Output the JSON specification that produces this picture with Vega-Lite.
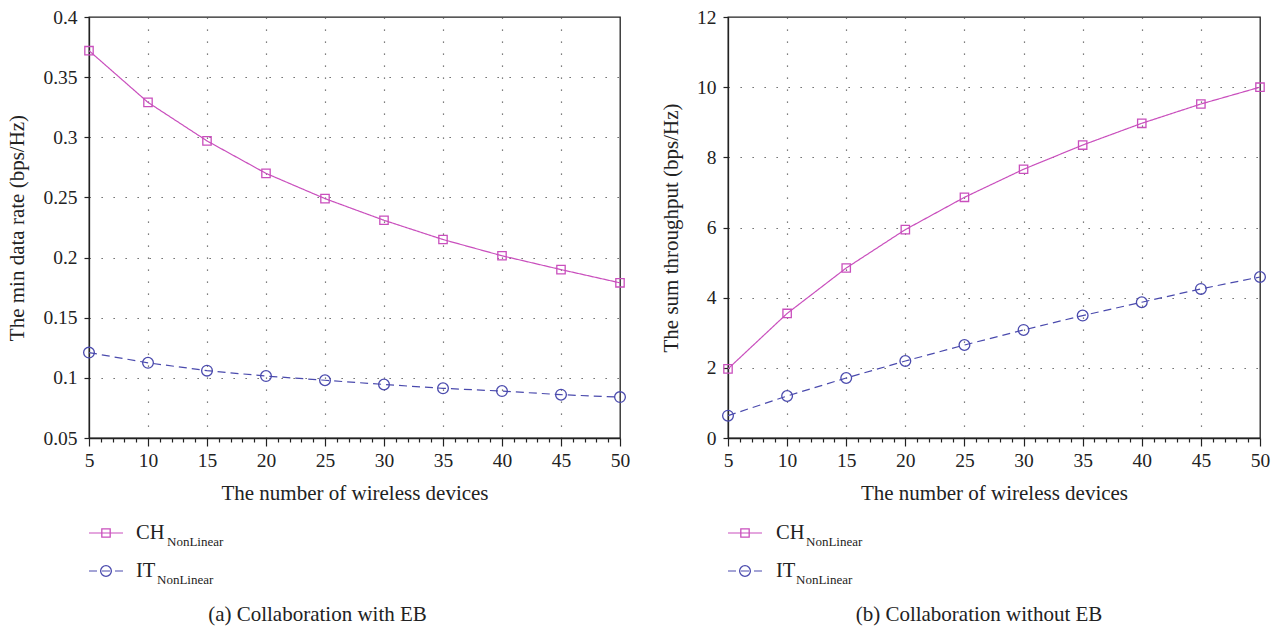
{
  "$schema": "https://vega.github.io/schema/vega-lite/v6.json",
  "background": "white",
  "padding": {"left": 6, "top": 6, "right": 10, "bottom": 4},
  "datasets": {
    "a": [
      {"n": 5, "series": "CH", "value": 0.372}, {"n": 10, "series": "CH", "value": 0.329}, {"n": 15, "series": "CH", "value": 0.297}, {"n": 20, "series": "CH", "value": 0.270}, {"n": 25, "series": "CH", "value": 0.249},
      {"n": 30, "series": "CH", "value": 0.231}, {"n": 35, "series": "CH", "value": 0.215}, {"n": 40, "series": "CH", "value": 0.2015}, {"n": 45, "series": "CH", "value": 0.190}, {"n": 50, "series": "CH", "value": 0.179},
      {"n": 5, "series": "IT", "value": 0.121}, {"n": 10, "series": "IT", "value": 0.1125}, {"n": 15, "series": "IT", "value": 0.106}, {"n": 20, "series": "IT", "value": 0.1015}, {"n": 25, "series": "IT", "value": 0.098},
      {"n": 30, "series": "IT", "value": 0.0945}, {"n": 35, "series": "IT", "value": 0.0913}, {"n": 40, "series": "IT", "value": 0.089}, {"n": 45, "series": "IT", "value": 0.086}, {"n": 50, "series": "IT", "value": 0.084}
    ],
    "b": [
      {"n": 5, "series": "CH", "value": 1.97}, {"n": 10, "series": "CH", "value": 3.55}, {"n": 15, "series": "CH", "value": 4.845}, {"n": 20, "series": "CH", "value": 5.94}, {"n": 25, "series": "CH", "value": 6.86},
      {"n": 30, "series": "CH", "value": 7.66}, {"n": 35, "series": "CH", "value": 8.35}, {"n": 40, "series": "CH", "value": 8.97}, {"n": 45, "series": "CH", "value": 9.52}, {"n": 50, "series": "CH", "value": 10.0},
      {"n": 5, "series": "IT", "value": 0.636}, {"n": 10, "series": "IT", "value": 1.197}, {"n": 15, "series": "IT", "value": 1.71}, {"n": 20, "series": "IT", "value": 2.195}, {"n": 25, "series": "IT", "value": 2.65},
      {"n": 30, "series": "IT", "value": 3.08}, {"n": 35, "series": "IT", "value": 3.49}, {"n": 40, "series": "IT", "value": 3.87}, {"n": 45, "series": "IT", "value": 4.25}, {"n": 50, "series": "IT", "value": 4.59}
    ],
    "legend": [
      {"series": "CH", "label": "CH", "sub": "NonLinear"},
      {"series": "IT", "label": "IT", "sub": "NonLinear"}
    ]
  },
  "spacing": 28,
  "hconcat": [
    {
      "spacing": 76,
      "bounds": "flush",
      "vconcat": [
        {
          "width": 531,
          "height": 421,
          "data": {"name": "a"},
          "encoding": {
            "x": {"field": "n", "type": "quantitative", "scale": {"domain": [5, 50], "nice": false, "zero": false},
              "axis": {"title": "The number of wireless devices", "values": [5,6,7,8,9,10,11,12,13,14,15,16,17,18,19,20,21,22,23,24,25,26,27,28,29,30,31,32,33,34,35,36,37,38,39,40,41,42,43,44,45,46,47,48,49,50],
                "labelExpr": "datum.value % 5 === 0 ? datum.label : ''",
                "tickSize": {"condition": {"test": "datum.value % 5 === 0", "value": 8}, "value": 4},
                "gridOpacity": {"condition": {"test": "datum.value % 5 === 0 && datum.value > 5 && datum.value < 50", "value": 1}, "value": 0},
                "labelPadding": 5, "titlePadding": 13}},
            "y": {"field": "value", "type": "quantitative", "scale": {"domain": [0.05, 0.4], "nice": false, "zero": false},
              "axis": {"title": "The min data rate (bps/Hz)", "values": [0.05, 0.1, 0.15, 0.2, 0.25, 0.3, 0.35, 0.4],
                "labelExpr": "format(datum.value, '.2~f')",
                "gridOpacity": {"condition": {"test": "datum.value > 0.06 && datum.value < 0.39", "value": 1}, "value": 0},
                "labelPadding": 7, "titlePadding": 15}},
            "color": {"field": "series", "type": "nominal", "scale": {"domain": ["CH", "IT"], "range": ["#c94fbd", "#4a4aad"]}, "legend": null}
          },
          "layer": [
            {"mark": {"type": "line", "strokeWidth": 1.2},
              "encoding": {"strokeDash": {"field": "series", "type": "nominal", "scale": {"domain": ["CH", "IT"], "range": [[1, 0], [8, 5]]}, "legend": null}}},
            {"mark": {"type": "point", "filled": false, "strokeWidth": 1.3, "opacity": 1},
              "encoding": {
                "shape": {"field": "series", "type": "nominal", "scale": {"domain": ["CH", "IT"], "range": ["square", "circle"]}, "legend": null},
                "size": {"field": "series", "type": "nominal", "scale": {"domain": ["CH", "IT"], "range": [70, 115]}, "legend": null}}}
          ]
        },
        {
          "width": 531,
          "height": 76,
          "view": {"stroke": null},
          "data": {"name": "legend"},
          "title": {"text": "(a) Collaboration with EB", "orient": "bottom", "anchor": "middle", "offset": 14, "dx": -37},
          "encoding": {
            "y": {"field": "series", "type": "nominal", "scale": {"type": "point", "padding": 0.5}, "axis": null}
          },
          "layer": [
            {"mark": {"type": "rule", "strokeWidth": 1.2},
              "encoding": {
                "x": {"datum": 0, "type": "quantitative", "scale": {"domain": [0, 531], "nice": false}, "axis": null},
                "x2": {"datum": 34},
                "color": {"field": "series", "type": "nominal", "scale": {"domain": ["CH", "IT"], "range": ["#c94fbd", "#4a4aad"]}, "legend": null},
                "strokeDash": {"field": "series", "type": "nominal", "scale": {"domain": ["CH", "IT"], "range": [[1, 0], [8, 5]]}, "legend": null}}},
            {"mark": {"type": "point", "filled": false, "strokeWidth": 1.3, "opacity": 1},
              "encoding": {
                "x": {"datum": 17, "type": "quantitative", "scale": {"domain": [0, 531], "nice": false}, "axis": null},
                "color": {"field": "series", "type": "nominal", "scale": {"domain": ["CH", "IT"], "range": ["#c94fbd", "#4a4aad"]}, "legend": null},
                "shape": {"field": "series", "type": "nominal", "scale": {"domain": ["CH", "IT"], "range": ["square", "circle"]}, "legend": null},
                "size": {"field": "series", "type": "nominal", "scale": {"domain": ["CH", "IT"], "range": [70, 115]}, "legend": null}}},
            {"mark": {"type": "text", "align": "left", "baseline": "middle", "font": "Liberation Serif", "fontSize": 20.5, "color": "#222"},
              "encoding": {"x": {"datum": 47, "type": "quantitative", "scale": {"domain": [0, 531], "nice": false}, "axis": null}, "text": {"field": "label"}}},
            {"transform": [{"filter": "datum.series === 'CH'"}],
              "mark": {"type": "text", "align": "left", "baseline": "middle", "font": "Liberation Serif", "fontSize": 13, "dy": 9, "color": "#222"},
              "encoding": {"x": {"datum": 78, "type": "quantitative", "scale": {"domain": [0, 531], "nice": false}, "axis": null}, "text": {"field": "sub"}}},
            {"transform": [{"filter": "datum.series === 'IT'"}],
              "mark": {"type": "text", "align": "left", "baseline": "middle", "font": "Liberation Serif", "fontSize": 13, "dy": 9, "color": "#222"},
              "encoding": {"x": {"datum": 68, "type": "quantitative", "scale": {"domain": [0, 531], "nice": false}, "axis": null}, "text": {"field": "sub"}}}
          ]
        }
      ]
    },
    {
      "spacing": 76,
      "bounds": "flush",
      "vconcat": [
        {
          "width": 532,
          "height": 421,
          "data": {"name": "b"},
          "encoding": {
            "x": {"field": "n", "type": "quantitative", "scale": {"domain": [5, 50], "nice": false, "zero": false},
              "axis": {"title": "The number of wireless devices", "values": [5,6,7,8,9,10,11,12,13,14,15,16,17,18,19,20,21,22,23,24,25,26,27,28,29,30,31,32,33,34,35,36,37,38,39,40,41,42,43,44,45,46,47,48,49,50],
                "labelExpr": "datum.value % 5 === 0 ? datum.label : ''",
                "tickSize": {"condition": {"test": "datum.value % 5 === 0", "value": 8}, "value": 4},
                "gridOpacity": {"condition": {"test": "datum.value % 5 === 0 && datum.value > 5 && datum.value < 50", "value": 1}, "value": 0},
                "labelPadding": 5, "titlePadding": 13}},
            "y": {"field": "value", "type": "quantitative", "scale": {"domain": [0, 12], "nice": false, "zero": false},
              "axis": {"title": "The sum throughput (bps/Hz)", "values": [0, 2, 4, 6, 8, 10, 12],
                "gridOpacity": {"condition": {"test": "datum.value > 0 && datum.value < 12", "value": 1}, "value": 0},
                "labelPadding": 7, "titlePadding": 15}},
            "color": {"field": "series", "type": "nominal", "scale": {"domain": ["CH", "IT"], "range": ["#c94fbd", "#4a4aad"]}, "legend": null}
          },
          "layer": [
            {"mark": {"type": "line", "strokeWidth": 1.2},
              "encoding": {"strokeDash": {"field": "series", "type": "nominal", "scale": {"domain": ["CH", "IT"], "range": [[1, 0], [8, 5]]}, "legend": null}}},
            {"mark": {"type": "point", "filled": false, "strokeWidth": 1.3, "opacity": 1},
              "encoding": {
                "shape": {"field": "series", "type": "nominal", "scale": {"domain": ["CH", "IT"], "range": ["square", "circle"]}, "legend": null},
                "size": {"field": "series", "type": "nominal", "scale": {"domain": ["CH", "IT"], "range": [70, 115]}, "legend": null}}}
          ]
        },
        {
          "width": 532,
          "height": 76,
          "view": {"stroke": null},
          "data": {"name": "legend"},
          "title": {"text": "(b) Collaboration without EB", "orient": "bottom", "anchor": "middle", "offset": 14, "dx": -15},
          "encoding": {
            "y": {"field": "series", "type": "nominal", "scale": {"type": "point", "padding": 0.5}, "axis": null}
          },
          "layer": [
            {"mark": {"type": "rule", "strokeWidth": 1.2},
              "encoding": {
                "x": {"datum": 0, "type": "quantitative", "scale": {"domain": [0, 532], "nice": false}, "axis": null},
                "x2": {"datum": 34},
                "color": {"field": "series", "type": "nominal", "scale": {"domain": ["CH", "IT"], "range": ["#c94fbd", "#4a4aad"]}, "legend": null},
                "strokeDash": {"field": "series", "type": "nominal", "scale": {"domain": ["CH", "IT"], "range": [[1, 0], [8, 5]]}, "legend": null}}},
            {"mark": {"type": "point", "filled": false, "strokeWidth": 1.3, "opacity": 1},
              "encoding": {
                "x": {"datum": 17, "type": "quantitative", "scale": {"domain": [0, 532], "nice": false}, "axis": null},
                "color": {"field": "series", "type": "nominal", "scale": {"domain": ["CH", "IT"], "range": ["#c94fbd", "#4a4aad"]}, "legend": null},
                "shape": {"field": "series", "type": "nominal", "scale": {"domain": ["CH", "IT"], "range": ["square", "circle"]}, "legend": null},
                "size": {"field": "series", "type": "nominal", "scale": {"domain": ["CH", "IT"], "range": [70, 115]}, "legend": null}}},
            {"mark": {"type": "text", "align": "left", "baseline": "middle", "font": "Liberation Serif", "fontSize": 20.5, "color": "#222"},
              "encoding": {"x": {"datum": 48, "type": "quantitative", "scale": {"domain": [0, 532], "nice": false}, "axis": null}, "text": {"field": "label"}}},
            {"transform": [{"filter": "datum.series === 'CH'"}],
              "mark": {"type": "text", "align": "left", "baseline": "middle", "font": "Liberation Serif", "fontSize": 13, "dy": 9, "color": "#222"},
              "encoding": {"x": {"datum": 78, "type": "quantitative", "scale": {"domain": [0, 532], "nice": false}, "axis": null}, "text": {"field": "sub"}}},
            {"transform": [{"filter": "datum.series === 'IT'"}],
              "mark": {"type": "text", "align": "left", "baseline": "middle", "font": "Liberation Serif", "fontSize": 13, "dy": 9, "color": "#222"},
              "encoding": {"x": {"datum": 68, "type": "quantitative", "scale": {"domain": [0, 532], "nice": false}, "axis": null}, "text": {"field": "sub"}}}
          ]
        }
      ]
    }
  ],
  "config": {
    "view": {"stroke": "#222", "strokeWidth": 1.3},
    "axis": {
      "labelFont": "Liberation Serif", "labelFontSize": 19.5, "labelColor": "#222", "labelFlush": false, "labelOverlap": false,
      "titleFont": "Liberation Serif", "titleFontSize": 21, "titleFontWeight": "normal", "titleColor": "#222",
      "domainColor": "#222", "domainWidth": 1.3, "tickColor": "#222", "tickWidth": 1.2,
      "grid": true, "gridColor": "#555", "gridDash": [1.3, 10.7], "gridWidth": 1.2
    },
    "title": {"font": "Liberation Serif", "fontSize": 21, "fontWeight": "normal", "color": "#222"}
  }
}
